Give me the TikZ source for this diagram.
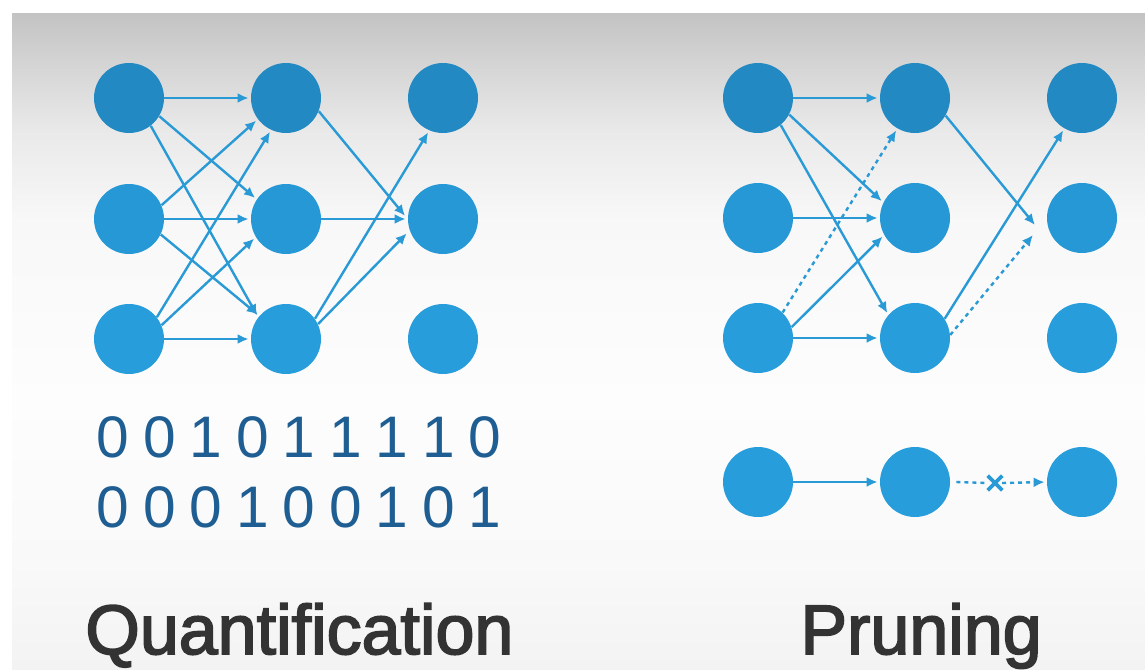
\documentclass[tikz,border=0pt]{standalone}
\usepackage{fontspec}
\setmainfont{Liberation Sans}
\newfontfamily\titlefont[FakeBold=2.5]{Liberation Sans}
\usetikzlibrary{arrows.meta,shapes.misc}
\definecolor{toprow}{HTML}{2389C2}
\definecolor{midrow}{HTML}{2598D5}
\definecolor{lowrow}{HTML}{279DDB}
\definecolor{arrowblue}{HTML}{2A9AD6}
\definecolor{digitblue}{HTML}{1F5E93}
\definecolor{titlegrey}{HTML}{333333}
\definecolor{bgA}{HTML}{C3C3C3}
\definecolor{bgB}{HTML}{D3D3D3}
\definecolor{bgC}{HTML}{E9E9E9}
\definecolor{bgD}{HTML}{F8F8F8}
\definecolor{bgE}{HTML}{FDFDFD}
\definecolor{bgF}{HTML}{F9F9F9}
\definecolor{bgG}{HTML}{F3F3F3}
\pgfdeclareverticalshading{bgshade}{100bp}{color(0bp)=(bgG); color(25bp)=(bgG); color(33.3bp)=(bgF); color(45.5bp)=(bgE); color(59.2bp)=(bgD); color(66.1bp)=(bgC); color(71.4bp)=(bgB); color(75bp)=(bgA); color(100bp)=(bgA)}
\tikzset{
  neuron/.style={circle, minimum size=35pt, inner sep=0pt, draw=none},
  conn/.style={draw=arrowblue, line width=1.2pt, shorten >=1pt, -{Latex[length=5.5pt,width=5pt]}},
  pruned/.style={conn, dash pattern=on 2pt off 2pt},
  plain/.style={draw=arrowblue, line width=1.2pt, dash pattern=on 2pt off 2pt},
  digits/.style={inner sep=0pt, anchor=base, text=digitblue, font=\fontsize{29.3}{32}\selectfont},
  title/.style={inner sep=0pt, anchor=base west, text=titlegrey, font=\titlefont\fontsize{35}{40}\selectfont}
}
\newcommand{\dg}[1]{\makebox[23.25pt]{#1}}
\begin{document}
\begin{tikzpicture}[x=0.5pt,y=-0.5pt]
\useasboundingbox (0,0) rectangle (1145,669);
\fill[white] (0,0) rectangle (1145,669);
\shade[shading=bgshade] (12,13) rectangle (1145,669);

% left network
\node[neuron, fill=toprow] (L1a) at (129,98) {};
\node[neuron, fill=midrow] (L1b) at (129,219) {};
\node[neuron, fill=lowrow] (L1c) at (129,339) {};
\node[neuron, fill=toprow] (L2a) at (286,98) {};
\node[neuron, fill=midrow] (L2b) at (286,219) {};
\node[neuron, fill=lowrow] (L2c) at (286,339) {};
\node[neuron, fill=toprow] (L3a) at (443,98) {};
\node[neuron, fill=midrow] (L3b) at (443,219) {};
\node[neuron, fill=lowrow] (L3c) at (443,339) {};

\draw[conn] (L1a.east) -- (L2a.west);
\draw[conn] (L1a.-31) -- (L2b.146);
\draw[conn] (L1a.-52) -- (L2c.142);
\draw[conn] (L1b.23) -- (L2a.217);
\draw[conn] (L1b.east) -- (L2b.west);
\draw[conn] (L1b.-26) -- (L2c.139);
\draw[conn] (L1c.38) -- (L2a.245);
\draw[conn] (L1c.23) -- (L2b.211);
\draw[conn] (L1c.east) -- (L2c.west);
\draw[conn, shorten >=2pt] (L2a.-22) -- (L3b.180);
\draw[conn] (L2b.east) -- (L3b.west);
\draw[conn] (L2c.35) -- (L3a.247);
\draw[conn, shorten >=2pt] (L2c.25) -- (L3b.199);

% right network
\node[neuron, fill=toprow] (R1a) at (758,98) {};
\node[neuron, fill=midrow] (R1b) at (758,218) {};
\node[neuron, fill=lowrow] (R1c) at (758,338) {};
\node[neuron, fill=toprow] (R2a) at (915,98) {};
\node[neuron, fill=midrow] (R2b) at (915,218) {};
\node[neuron, fill=lowrow] (R2c) at (915,338) {};
\node[neuron, fill=toprow] (R3a) at (1082,98) {};
\node[neuron, fill=midrow] (R3b) at (1082,218) {};
\node[neuron, fill=lowrow] (R3c) at (1082,338) {};
\coordinate (p1) at (1035,225);
\coordinate (p2) at (1033,235);

\draw[conn] (R1a.east) -- (R2a.west);
\draw[conn] (R1a.-28) -- (R2b.154);
\draw[conn] (R1a.-50) -- (R2c.139);
\draw[conn] (R1b.east) -- (R2b.west);
\draw[pruned] (R1c.46) -- (R2a.240);
\draw[conn] (R1c.18) -- (R2b.209);
\draw[conn] (R1c.east) -- (R2c.west);
\draw[conn, shorten >=0pt] (R2a.-30) -- (p1);
\draw[conn] (R2c.33) -- (R3a.240);
\draw[pruned, shorten >=0pt] (R2c.5) -- (p2);

% bottom row
\node[neuron, fill=lowrow] (B1) at (758,482) {};
\node[neuron, fill=lowrow] (B2) at (915,482) {};
\node[neuron, fill=lowrow] (B3) at (1082,482) {};
\node[cross out, draw=arrowblue, line width=1.8pt, minimum size=5.5pt, inner sep=0pt] (cut) at (995,483) {};
\draw[conn] (B1.east) -- (B2.west);
\draw[plain] ([xshift=3pt]B2.east) -- ([xshift=-3.5pt]cut.center);
\draw[pruned] ([xshift=3.5pt]cut.center) -- (B3.west);

% binary digits
\node[digits] (bits1) at (299,457) {\dg{0}\dg{0}\dg{1}\dg{0}\dg{1}\dg{1}\dg{1}\dg{1}\dg{0}};
\node[digits] (bits2) at (299,527) {\dg{0}\dg{0}\dg{0}\dg{1}\dg{0}\dg{0}\dg{1}\dg{0}\dg{1}};

% titles
\node[title] (tq) at (85,654) {Quantification};
\node[title] (tp) at (800,654) {Pruning};
\end{tikzpicture}
\end{document}
